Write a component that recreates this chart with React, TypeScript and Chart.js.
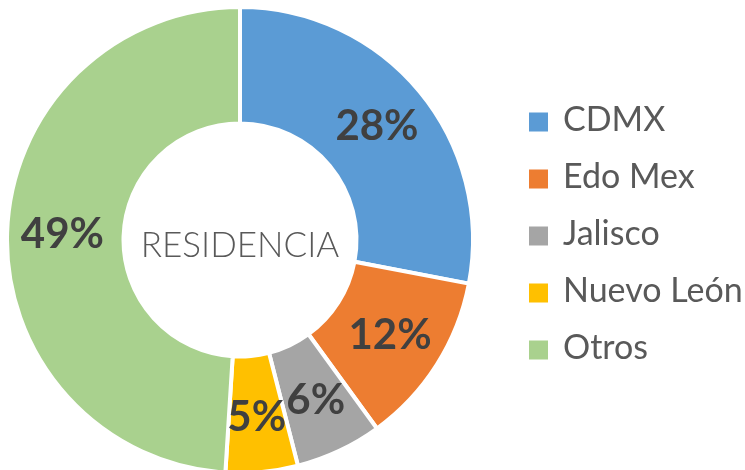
import React, { useEffect, useRef } from "react";
import { Chart, registerables } from "chart.js";

Chart.register(...registerables);

const categories = ["CDMX", "Edo Mex", "Jalisco", "Nuevo León", "Otros"];
const values = [28, 12, 6, 5, 49];
const colors = ["#5B9BD5", "#ED7D31", "#A5A5A5", "#FFC000", "#A9D18E"];
const centerTitle = "RESIDENCIA";

const FONT = "Lato, 'Open Sans', sans-serif";

const labelPlugin = {
  id: "pctLabels",
  afterDatasetsDraw(chart: any) {
    const { ctx } = chart;
    const meta = chart.getDatasetMeta(0);
    ctx.save();
    ctx.fillStyle = "#404040";
    ctx.font = `bold 42px ${FONT}`;
    ctx.textAlign = "center";
    ctx.textBaseline = "middle";
    meta.data.forEach((arc: any, i: number) => {
      const { x, y, startAngle, endAngle, innerRadius, outerRadius } = arc.getProps(
        ["x", "y", "startAngle", "endAngle", "innerRadius", "outerRadius"],
        true
      );
      const mid = (startAngle + endAngle) / 2;
      const r = (innerRadius + outerRadius) / 2 + 3;
      ctx.fillText(`${values[i]}%`, x + r * Math.cos(mid), y + r * Math.sin(mid));
    });
    const ca = chart.chartArea;
    const cx = (ca.left + ca.right) / 2;
    const cy = (ca.top + ca.bottom) / 2;
    ctx.fillStyle = "#595959";
    ctx.font = `300 35px ${FONT}`;
    ctx.textBaseline = "alphabetic";
    ctx.fillText(centerTitle, cx, cy + 17);
    ctx.restore();
  },
};

const legendPlugin = {
  id: "sideLegend",
  afterDraw(chart: any) {
    const { ctx } = chart;
    ctx.save();
    const x0 = 529;
    const top = 122;
    const step = 57;
    const box = 19;
    ctx.font = `34px ${FONT}`;
    ctx.textAlign = "left";
    ctx.textBaseline = "alphabetic";
    categories.forEach((c, i) => {
      const cy = top + i * step;
      ctx.fillStyle = colors[i];
      ctx.fillRect(x0, cy - box / 2, box, box);
      ctx.fillStyle = "#595959";
      ctx.fillText(c, 563, cy + 9);
    });
    ctx.restore();
  },
};

export default function App() {
  const ref = useRef<HTMLCanvasElement | null>(null);
  useEffect(() => {
    if (!ref.current) return;
    const chart = new Chart(ref.current, {
      type: "doughnut",
      data: {
        labels: categories,
        datasets: [
          {
            data: values,
            backgroundColor: colors,
            borderColor: "#ffffff",
            borderWidth: 4,
          },
        ],
      },
      options: {
        responsive: false,
        animation: false,
        radius: 233,
        cutout: 114,
        layout: { padding: { left: 10, top: 10, right: 275, bottom: 0 } },
        plugins: {
          legend: { display: false },
          tooltip: { enabled: false },
        },
      },
      plugins: [labelPlugin, legendPlugin],
    });
    return () => chart.destroy();
  }, []);
  return (
    <div style={{ position: "absolute", left: 0, top: 0, width: 745, height: 470, background: "#fff" }}>
      <canvas ref={ref} width={745} height={470} style={{ width: 745, height: 470, display: "block" }} />
    </div>
  );
}
